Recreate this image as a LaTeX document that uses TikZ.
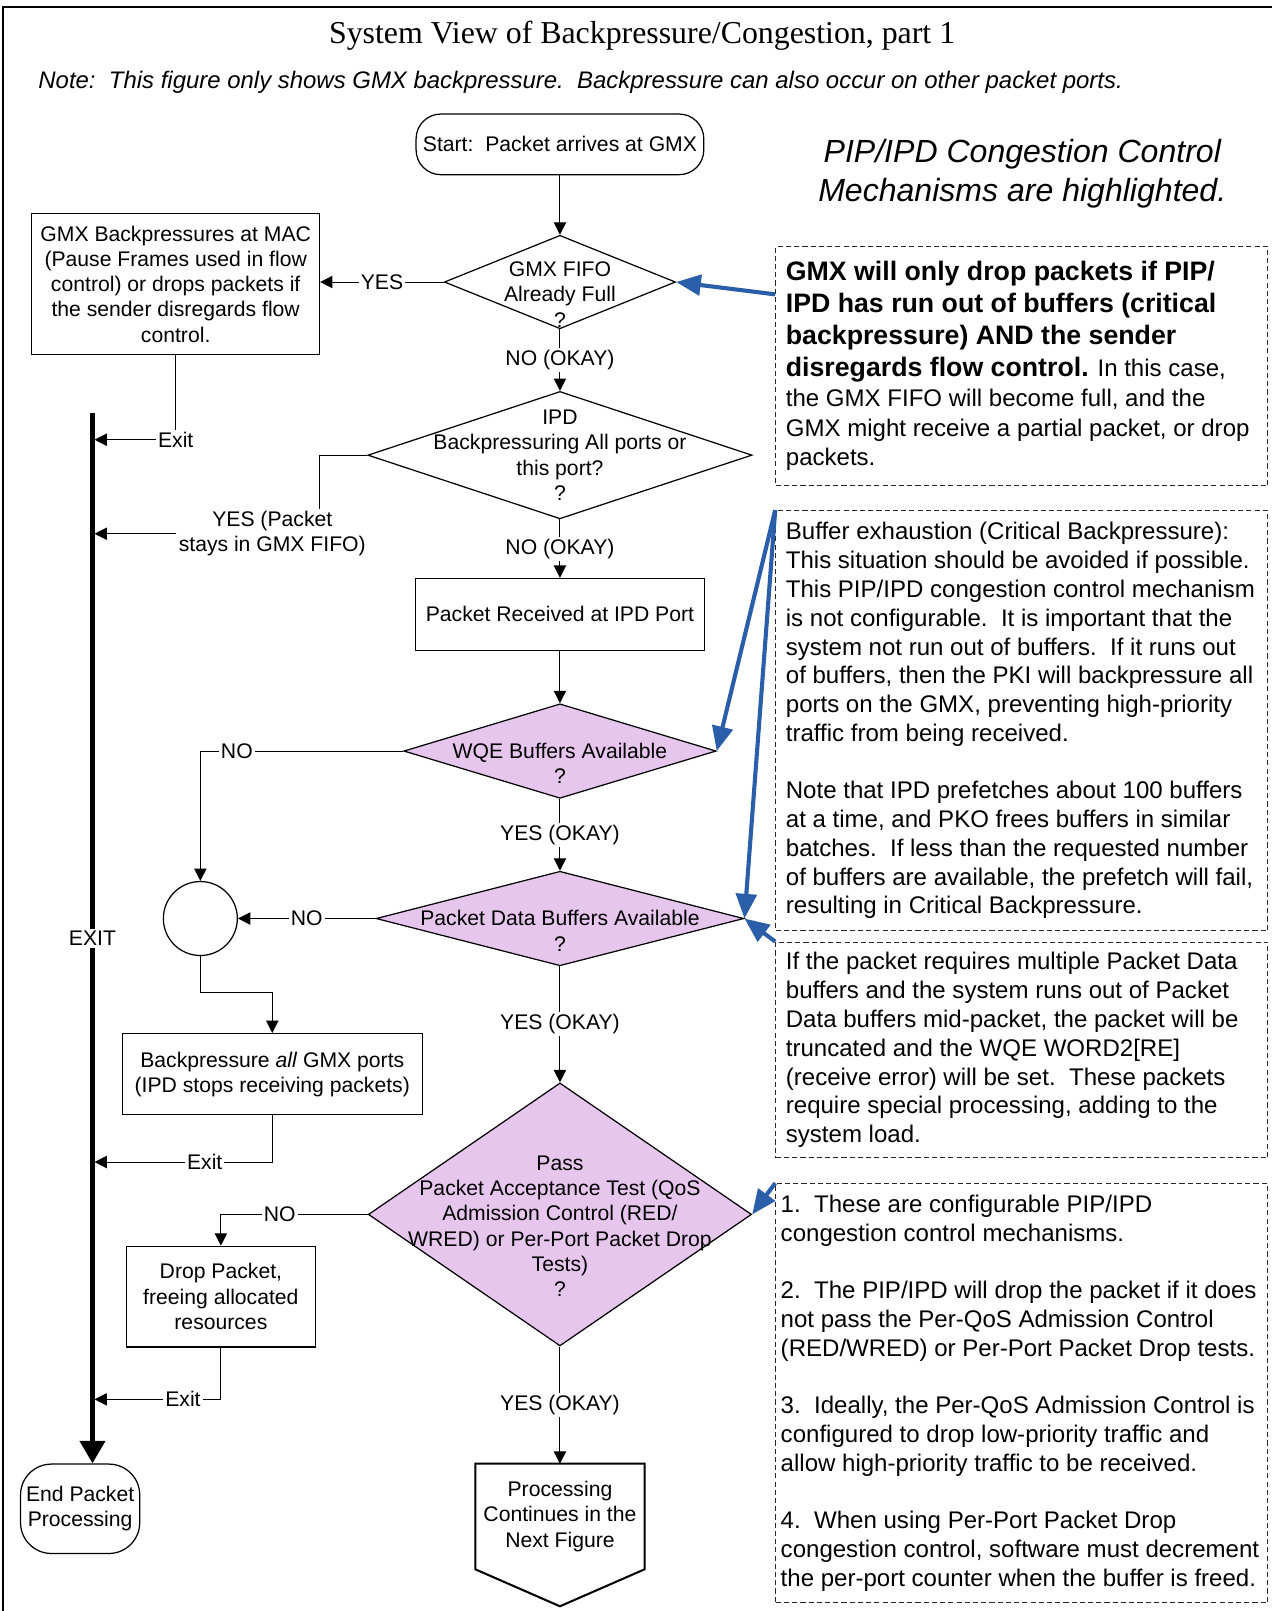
\documentclass[tikz,border=0pt]{standalone}
\usepackage{fontspec}
\setmainfont{Liberation Sans}
\newfontfamily\titlefont{Liberation Serif}
\usepackage{xcolor}
\usetikzlibrary{arrows.meta, shapes.geometric}
\definecolor{qospurple}{RGB}{231, 198, 238}
\definecolor{noteblue}{RGB}{43, 94, 168}

\begin{document}
\begin{tikzpicture}[
    x=0.5pt, y=-0.5pt,
    flow/.style={font=\fontsize{10.3}{12.3}\selectfont, align=center},
    box/.style={flow, rectangle, draw, line width=0.6pt, inner sep=0pt},
    terminal/.style={box, rounded corners=12pt},
    decision/.style={diamond, draw, line width=0.6pt, inner sep=0pt, fill=white},
    qosdecision/.style={decision, fill=qospurple},
    qtext/.style={flow, inner sep=0pt},
    lbl/.style={flow, fill=white, inner sep=1pt},
    arrow/.style={-{Triangle[length=6pt, width=6pt]}, line width=0.5pt},
    line/.style={line width=0.5pt},
    exitarrow/.style={-{Triangle[length=11pt, width=12pt]}, line width=2.5pt},
    notebox/.style={draw=black!85, dash pattern=on 2.5pt off 1.5pt, line width=0.5pt, minimum width=239.5pt, inner sep=0pt},
    notetext/.style={align=left, anchor=west, inner sep=0pt, font=\fontsize{11.7}{14}\selectfont},
    bluearrow/.style={draw=noteblue, line width=2pt, -{Triangle[length=12pt, width=10pt]}}
]
\useasboundingbox (0,0) rectangle (1238,1568);

% Frame and headings
\draw[line width=1pt] (3,1568) -- (3,7) -- (1238,7);
\node[font=\titlefont\fontsize{15.5}{18}\selectfont] (title) at (625,35) {System View of Backpressure/Congestion, part 1};
\node[font=\itshape\fontsize{11.65}{13.5}\selectfont, anchor=west, inner sep=0pt] (gmxnote) at (37,80) {Note:\ \ This figure only shows GMX backpressure.\ \ Backpressure can also occur on other packet ports.};
\node[font=\itshape\fontsize{15.6}{19}\selectfont, align=center] (highlight) at (995,169) {PIP/IPD Congestion Control\\Mechanisms are highlighted.};

% Main flow
\node[terminal, minimum width=140pt, minimum height=29.5pt] (start) at (545,140.5) {Start:\ \ Packet arrives at GMX};
\node[decision, minimum width=112.5pt, minimum height=45.5pt, label={[qtext, yshift=-6pt]center:{GMX FIFO\\Already Full\\?}}] (fifo) at (545,274.5) {};
\node[box, minimum width=140pt, minimum height=68.5pt] (macbox) at (171,276.5) {GMX Backpressures at MAC\\(Pause Frames used in flow\\control) or drops packets if\\the sender disregards flow\\control.};
\node[decision, minimum width=187pt, minimum height=62pt, label={[qtext]center:{IPD\\Backpressuring All ports or\\this port?\\?}}] (ipdbp) at (545,443) {};
\node[box, minimum width=140.5pt, minimum height=35pt] (ipdport) at (545,598) {Packet Received at IPD Port};
\node[qosdecision, minimum width=152pt, minimum height=46pt, label={[qtext, yshift=-6pt]center:{WQE Buffers Available\\?}}] (wqe) at (545,731) {};
\node[qosdecision, minimum width=179pt, minimum height=46pt, label={[qtext, yshift=-6pt]center:{Packet Data Buffers Available\\?}}] (pdata) at (545,894) {};
\node[circle, draw, line width=0.6pt, minimum size=36pt, inner sep=0pt] (merge) at (195,894) {};
\node[box, minimum width=146pt, minimum height=39.5pt] (bpall) at (265,1045.5) {Backpressure \textit{all} GMX ports\\(IPD stops receiving packets)};
\node[qosdecision, minimum width=186.5pt, minimum height=128pt, label={[qtext, yshift=-5.75pt]center:{Pass\\Packet Acceptance Test (QoS\\Admission Control (RED/\\WRED) or Per-Port Packet Drop\\Tests)\\?}}] (accept) at (545,1182) {};
\node[box, minimum width=92pt, minimum height=49pt] (dropbox) at (215,1262) {Drop Packet,\\freeing allocated\\resources};
\node[terminal, rounded corners=15pt, minimum width=58pt, minimum height=43.5pt] (endp) at (78,1468.5) {End Packet\\Processing};
\node[flow, minimum width=82pt, minimum height=51pt, inner sep=0pt] (nextfig) at (545,1476) {Processing\\Continues in the\\Next Figure};
\draw[line width=1pt] (nextfig.south west) -- (nextfig.north west) -- (nextfig.north east) -- (nextfig.south east) -- ([yshift=-18pt]nextfig.south) -- cycle;

% Exit bus
\coordinate (exittop) at (90,402);
\coordinate (exit1) at (92,428);
\coordinate (exit2) at (92,1131);
\coordinate (exit3) at (92,1362);
\coordinate (yesbend) at (311,500);
\draw[exitarrow] (exittop) -- node[lbl]{EXIT} (exittop |- endp.north);

% Arrows
\draw[arrow] (start) -- (fifo);
\draw[arrow] (fifo.west) -- node[lbl]{YES} (fifo.west -| macbox.east);
\draw[arrow] (macbox.south) |- node[lbl, pos=0.5]{Exit} (exit1);
\draw[arrow] (fifo) -- node[lbl]{NO (OKAY)} (ipdbp);
\draw[line] (ipdbp.west) -| (yesbend);
\node[lbl] (yespkt) at (265,519.5) {YES (Packet\\stays in GMX FIFO)};
\draw[arrow] (yespkt.west) -- (yespkt.west -| exit1);
\draw[arrow] (ipdbp) -- node[lbl]{NO (OKAY)} (ipdport);
\draw[arrow] (ipdport) -- (wqe);
\draw[arrow] (wqe.west) -| node[lbl, pos=0.41]{NO} (merge.north);
\draw[arrow] (wqe) -- node[lbl]{YES (OKAY)} (pdata);
\draw[arrow] (pdata.west) -- node[lbl]{NO} (merge.east);
\draw[arrow] (merge.south) -- ++(0,35) -| (bpall.north);
\draw[arrow] (bpall.south) |- node[lbl, pos=0.69]{Exit} (exit2);
\draw[arrow] (pdata) -- node[lbl]{YES (OKAY)} (accept);
\draw[arrow] (accept.west) -| node[lbl, pos=0.3]{NO} (dropbox.north);
\draw[arrow] (dropbox.south) |- node[lbl, pos=0.65]{Exit} (exit3);
\draw[arrow] (accept) -- node[lbl]{YES (OKAY)} (nextfig.north);

% Notes on the right
\node[notebox, minimum height=116.5pt] (noteA) at (994.5,356.5) {};
\node[notetext, font=\fontsize{11.7}{14.5}\selectfont] (noteAtext) at ([xshift=5pt]noteA.west) {%
{\bfseries\fontsize{13}{15.5}\selectfont GMX will only drop packets if PIP/}\\[1pt]
{\bfseries\fontsize{13}{15.5}\selectfont IPD has run out of buffers (critical}\\[1pt]
{\bfseries\fontsize{13}{15.5}\selectfont backpressure) AND the sender}\\[1pt]
{\bfseries\fontsize{13}{15.5}\selectfont disregards flow control.} In this case,\\
the GMX FIFO will become full, and the\\
GMX might receive a partial packet, or drop\\
packets.};

\node[notebox, minimum height=204.5pt] (noteB) at (994.5,701.5) {};
\node[notetext] (noteBtext) at ([xshift=5pt]noteB.west) {%
Buffer exhaustion (Critical Backpressure):\\
This situation should be avoided if possible.\\
This PIP/IPD congestion control mechanism\\
is not configurable.\ \ It is important that the\\
system not run out of buffers.\ \ If it runs out\\
of buffers, then the PKI will backpressure all\\
ports on the GMX, preventing high-priority\\
traffic from being received.\\[14pt]
Note that IPD prefetches about 100 buffers\\
at a time, and PKO frees buffers in similar\\
batches.\ \ If less than the requested number\\
of buffers are available, the prefetch will fail,\\
resulting in Critical Backpressure.};

\node[notebox, minimum height=105pt] (noteC) at (994.5,1022) {};
\node[notetext] (noteCtext) at ([xshift=5pt]noteC.west) {%
If the packet requires multiple Packet Data\\
buffers and the system runs out of Packet\\
Data buffers mid-packet, the packet will be\\
truncated and the WQE WORD2[RE]\\
(receive error) will be set.\ \ These packets\\
require special processing, adding to the\\
system load.};

\node[notebox, minimum height=204pt] (noteD) at (994.5,1356) {};
\node[notetext] (noteDtext) at ([xshift=2.5pt]noteD.west) {%
1.\ \ These are configurable PIP/IPD\\
congestion control mechanisms.\\[14pt]
2.\ \ The PIP/IPD will drop the packet if it does\\
not pass the Per-QoS Admission Control\\
(RED/WRED) or Per-Port Packet Drop tests.\\[14pt]
3.\ \ Ideally, the Per-QoS Admission Control is\\
configured to drop low-priority traffic and\\
allow high-priority traffic to be received.\\[14pt]
4.\ \ When using Per-Port Packet Drop\\
congestion control, software must decrement\\
the per-port counter when the buffer is freed.};

% Pointers from the notes
\draw[bluearrow] ([yshift=-23.5pt]noteA.north west) -- (fifo.east);
\draw[bluearrow] (noteB.north west) -- (wqe.east);
\draw[bluearrow] (noteB.north west) -- (pdata.east);
\draw[bluearrow] (noteC.north west) -- (pdata.east);
\draw[bluearrow] (noteD.north west) -- (accept.east);

\end{tikzpicture}
\end{document}
